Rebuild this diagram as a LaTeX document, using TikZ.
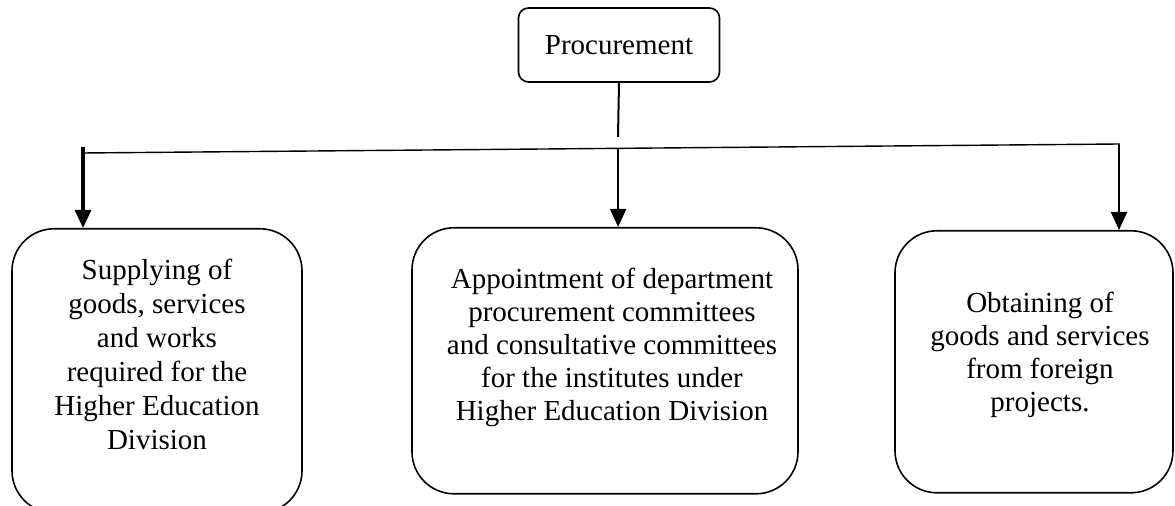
\documentclass[tikz,border=0pt]{standalone}
\usepackage{fontspec}
\setmainfont{Liberation Serif}
\usetikzlibrary{arrows.meta, positioning, calc}

\begin{document}
\begin{tikzpicture}[
    x=0.5pt, y=-0.5pt,
    entity/.style={draw, line width=0.8pt, rounded corners=21pt, anchor=north},
    desc/.style={align=center, font=\fontsize{14.5}{16.5}\selectfont, inner sep=0pt},
    arrow/.style={-{Triangle[length=9pt,width=8pt]}, line width=1pt},
    link/.style={line width=0.7pt}
]
    \useasboundingbox (0,0) rectangle (1175,506);

    % Top node
    \node[draw, line width=0.8pt, rounded corners=5pt, minimum width=100.5pt, minimum height=37pt,
          font=\fontsize{14.5}{16.5}\selectfont] (proc) at (619,45) {Procurement};

    % Branch boxes
    \node[entity, minimum width=145pt, minimum height=142pt] (supply) at (157,228) {};
    \node[entity, minimum width=193pt, minimum height=133pt] (appoint) at (605,227) {};
    \node[entity, minimum width=139pt, minimum height=131pt] (obtain) at (1034,230) {};

    % Box texts
    \node[desc, font=\fontsize{14.5}{17}\selectfont] (supplytext) at (157,354) {Supplying of\\goods, services\\and works\\required for the\\Higher Education\\Division};
    \node[desc] (appointtext) at (612,347) {Appointment of department\\procurement committees\\and consultative committees\\for the institutes under\\Higher Education Division};
    \node[desc] (obtaintext) at (1040,355) {Obtaining of\\goods and services\\from foreign\\projects.};

    % Bar
    \coordinate (stemend) at (618,137);
    \coordinate (barL) at (83,153);
    \coordinate (barR) at (1120,144);
    \coordinate (tapL) at (83,147);
    \coordinate (tapM) at ($(barL)!0.516!(barR)$);
    \coordinate (tapR) at (1119,144);

    \draw[link, line width=1pt] (proc.south) -- (stemend);
    \draw[link] (barL) -- (barR);

    % Arrows to the boxes
    \draw[arrow, line width=1.6pt] (tapL) -- (tapL |- supply.north);
    \draw[arrow] (tapM) -- (tapM |- appoint.north);
    \draw[arrow] (tapR) -- (tapR |- obtain.north);
\end{tikzpicture}
\end{document}
